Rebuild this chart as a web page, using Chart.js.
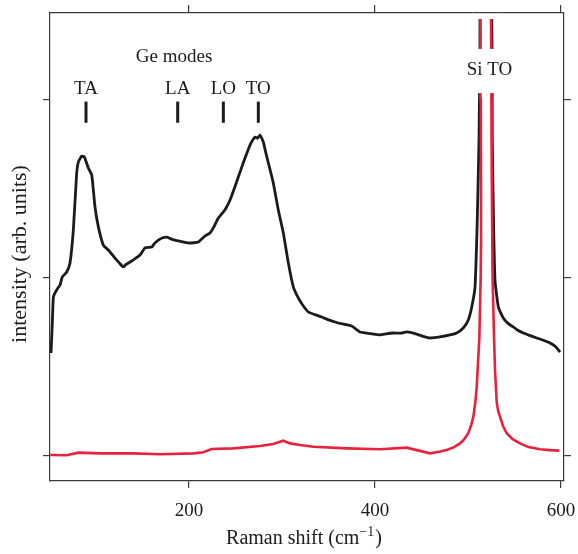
<!DOCTYPE html>
<html>
<head>
<meta charset="utf-8">
<title>Raman spectra</title>
<script src="https://cdn.jsdelivr.net/npm/chart.js@4.4.1/dist/chart.umd.min.js"></script>
<style>
  html, body { margin: 0; padding: 0; background: #fff; }
  #wrap { width: 578px; height: 554px; position: relative; }
</style>
</head>
<body>
<div id="wrap"><canvas id="chart"></canvas></div>
<script>
// SiGe layer spectrum (black): Raman shift in cm^-1 and intensity (arb. units)
const geShift = [
  51.6, 52.7, 54.1, 55.9, 58.5, 61.3, 63.8, 68.5, 72.0, 75.6, 79.2, 81.0, 84.6, 87.4,
  91.7, 95.4, 98.9, 102.5, 107.8, 113.2, 120.4, 125.0, 129.4, 132.0, 136.6, 141.0,
  147.3, 152.7, 159.9, 163.0, 167.0, 171.0, 176.0, 180.5, 184.9, 192.0, 199.2, 205.0,
  210.0, 217.2, 222.6, 227.0, 231.5, 236.9, 240.0, 244.1, 248.5, 253.0, 256.5, 260.2,
  265.6, 271.0, 273.5, 276.3, 279.9, 282.5, 285.3, 290.6, 296.0, 301.4, 306.8, 312.2,
  317.5, 322.0, 328.3, 335.0, 342.7, 350.0, 357.0, 365.0, 374.9, 383.9, 395.0, 405.4,
  412.0, 419.7, 428.0, 434.1, 444.8, 452.0, 459.1, 469.9, 480.6, 487.8, 494.9, 500.3,
  504.0, 507.5, 509.8, 511.8, 512.8, 513.2, 519.0, 525.0, 525.8, 526.1, 527.5, 529.0,
  532.6, 537.9, 543.0, 548.7, 554.0, 559.5, 566.0, 573.9, 581.0, 588.2, 594.0, 598.9
];
const geIntensity = [
  0.579, 0.708, 0.893, 0.916, 0.940, 0.961, 1.006, 1.034, 1.084, 1.270, 1.590, 1.652, 1.685, 1.680,
  1.618, 1.579, 1.399, 1.287, 1.185, 1.157, 1.112, 1.085, 1.062, 1.075, 1.090, 1.105,
  1.129, 1.169, 1.174, 1.195, 1.213, 1.225, 1.230, 1.220, 1.213, 1.205, 1.197, 1.198,
  1.202, 1.236, 1.253, 1.290, 1.337, 1.371, 1.395, 1.438, 1.500, 1.567, 1.620, 1.674,
  1.747, 1.792, 1.785, 1.803, 1.764, 1.705, 1.646, 1.534, 1.382, 1.253, 1.084, 0.949,
  0.888, 0.850, 0.809, 0.795, 0.781, 0.765, 0.753, 0.742, 0.730, 0.697, 0.688, 0.680,
  0.686, 0.691, 0.690, 0.697, 0.685, 0.672, 0.663, 0.669, 0.680, 0.691, 0.719, 0.764,
  0.837, 0.949, 1.300, 1.775, 2.300, 2.600, 2.900, 2.600, 2.300, 1.775, 1.300, 0.989,
  0.837, 0.775, 0.745, 0.725, 0.705, 0.691, 0.678, 0.663, 0.650, 0.635, 0.615, 0.584
];

// Si substrate reference spectrum (red)
const siShift = [
  50.7, 68.5, 81.0, 104.3, 139.8, 168.8, 204.6, 215.4, 224.4, 247.6, 276.3, 290.6,
  301.4, 308.6, 319.4, 333.7, 369.6, 405.4, 434.1, 459.1, 470.0, 477.1, 485.0, 491.4,
  496.0, 500.3, 503.5, 505.7, 507.8, 509.4, 510.3, 512.2, 513.6, 514.0, 513.8, 513.4,
  519.0, 524.6, 525.2, 525.5, 526.4, 527.8, 529.0, 530.9, 532.5, 534.4, 537.5, 541.6,
  548.0, 555.9, 565.0, 577.4, 588.0, 598.2
];
const siIntensity = [
  0.006, 0.004, 0.019, 0.015, 0.015, 0.010, 0.015, 0.021, 0.039, 0.043, 0.056, 0.067,
  0.086, 0.071, 0.062, 0.052, 0.043, 0.038, 0.047, 0.015, 0.025, 0.034, 0.050, 0.071,
  0.095, 0.128, 0.175, 0.221, 0.300, 0.389, 0.483, 0.670, 1.000, 1.200, 2.000, 2.600,
  2.800, 2.600, 2.000, 1.600, 1.000, 0.700, 0.483, 0.298, 0.250, 0.221, 0.170, 0.128,
  0.095, 0.071, 0.050, 0.038, 0.033, 0.030
];

// Axis ranges and ticks
const xRange = [50.5, 603.2];
const yRange = [-0.1404, 2.4888];
const xTicks = [200, 400, 600];
const yTicks = [0, 1, 2];

// Axis titles
const xTitle = ['Raman shift (cm', '\u22121', ')'];
const yTitle = 'intensity (arb. units)';

// Phonon mode annotations for Ge-Ge vibrations
const geModeTitle = 'Ge modes';
const geModeTitlePos = [183.9, 2.242];
const geModeNames = ['TA', 'LA', 'LO', 'TO'];
const geModeShifts = [89.2, 187.8, 236.9, 274.5];
const geModeLabelLevel = 2.062;
const geModeMarkRange = [1.872, 1.991];

// Si TO label sits in a break of the truncated Si peak
const siLabel = 'Si TO';
const siLabelPos = [523.1, 2.169];
const siLabelGap = [2.039, 2.287];
const siPeakCut = 2.455;
const siPeakSpan = [505, 533];

const FONT = "'Liberation Serif', 'DejaVu Serif', serif";
const INK = '#1b1b1b';
const FRAME = '#3a3a3a';
const FRAME_W = 1.2;
const RED = '#e8223c';

function toPoints(xs, ys) { return xs.map((v, i) => ({ x: v, y: ys[i] })); }

const annotate = {
  id: 'annotate',
  afterDatasetsDraw(chart) {
    const { ctx, chartArea } = chart;
    const xs = chart.scales.x, ys = chart.scales.y;
    ctx.save();

    // truncate the Si peak a little below the top frame
    const px0 = xs.getPixelForValue(siPeakSpan[0]);
    const px1 = xs.getPixelForValue(siPeakSpan[1]);
    const cutY = ys.getPixelForValue(siPeakCut);
    ctx.fillStyle = '#fff';
    ctx.fillRect(px0, chartArea.top - 2, px1 - px0, cutY - chartArea.top + 2);
    const topY = Math.round(chartArea.top - FRAME_W / 2) + FRAME_W / 2;
    ctx.strokeStyle = FRAME;
    ctx.lineWidth = FRAME_W;
    ctx.beginPath();
    ctx.moveTo(px0, topY);
    ctx.lineTo(px1, topY);
    ctx.stroke();

    ctx.font = '19px ' + FONT;
    ctx.textAlign = 'center';
    ctx.textBaseline = 'middle';

    // Si TO label in a white break of the peak
    const sx = xs.getPixelForValue(siLabelPos[0]);
    const sy = ys.getPixelForValue(siLabelPos[1]);
    const gTop = ys.getPixelForValue(siLabelGap[1]);
    const gBot = ys.getPixelForValue(siLabelGap[0]);
    const tw = ctx.measureText(siLabel).width;
    ctx.fillStyle = '#fff';
    ctx.fillRect(sx - tw / 2 - 2, gTop, tw + 4, gBot - gTop);
    ctx.fillStyle = INK;
    ctx.fillText(siLabel, sx, sy);

    // Ge mode labels and markers
    ctx.fillText(geModeTitle, xs.getPixelForValue(geModeTitlePos[0]), ys.getPixelForValue(geModeTitlePos[1]));
    const ly = ys.getPixelForValue(geModeLabelLevel);
    const m0 = ys.getPixelForValue(geModeMarkRange[1]);
    const m1 = ys.getPixelForValue(geModeMarkRange[0]);
    ctx.strokeStyle = INK;
    ctx.lineWidth = 3;
    geModeNames.forEach((name, i) => {
      const mx = xs.getPixelForValue(geModeShifts[i]);
      ctx.fillText(name, mx, ly);
      ctx.beginPath();
      ctx.moveTo(mx, m0);
      ctx.lineTo(mx, m1);
      ctx.stroke();
    });

    // x-axis title with a raised exponent
    const big = '20px ' + FONT, small = '14px ' + FONT;
    ctx.textAlign = 'left';
    ctx.textBaseline = 'alphabetic';
    ctx.font = big;
    const w0 = ctx.measureText(xTitle[0]).width;
    const w2 = ctx.measureText(xTitle[2]).width;
    ctx.font = small;
    const w1 = ctx.measureText(xTitle[1]).width;
    const cx = (chartArea.left + chartArea.right) / 2 - 3;
    let tx = cx - (w0 + w1 + w2 + 1) / 2;
    const base = 544;
    ctx.fillStyle = INK;
    ctx.font = big;
    ctx.fillText(xTitle[0], tx, base);
    tx += w0;
    ctx.font = small;
    ctx.fillText(xTitle[1], tx, base - 8);
    tx += w1 + 1;
    ctx.font = big;
    ctx.fillText(xTitle[2], tx, base);

    // y-axis title, rotated
    ctx.save();
    ctx.translate(20, 254);
    ctx.rotate(-Math.PI / 2);
    ctx.textAlign = 'center';
    ctx.textBaseline = 'middle';
    ctx.font = '22px ' + FONT;
    ctx.fillText(yTitle, 0, 0);
    ctx.restore();

    ctx.restore();
  }
};

function frameAxis(extra) {
  return Object.assign({
    type: 'linear',
    grid: { drawOnChartArea: false, drawTicks: true, tickLength: 7, color: FRAME, lineWidth: FRAME_W },
    border: { display: true, color: FRAME, width: FRAME_W },
    ticks: { display: false }
  }, extra);
}

function fixSize(prop, size) {
  return function (s) {
    s[prop] = size;
    s.paddingLeft = 0; s.paddingRight = 0; s.paddingTop = 0; s.paddingBottom = 0;
  };
}

new Chart(document.getElementById('chart'), {
  type: 'line',
  data: {
    datasets: [
      {
        label: 'Si',
        data: toPoints(siShift, siIntensity),
        borderColor: RED,
        borderWidth: 2.6,
        pointRadius: 0,
        tension: 0,
        fill: false,
        clip: 0
      },
      {
        label: 'SiGe',
        data: toPoints(geShift, geIntensity),
        borderColor: INK,
        borderWidth: 2.8,
        pointRadius: 0,
        tension: 0.15,
        fill: false,
        clip: 0
      }
    ]
  },
  options: {
    responsive: true,
    maintainAspectRatio: false,
    animation: false,
    parsing: false,
    layout: { padding: 0, autoPadding: false },
    plugins: { legend: { display: false }, tooltip: { enabled: false } },
    scales: {
      x: frameAxis({
        position: 'bottom', min: xRange[0], max: xRange[1],
        afterBuildTicks(s) { s.ticks = xTicks.map(v => ({ value: v })); },
        afterFit: fixSize('height', 73),
        ticks: { display: true, color: INK, font: { family: FONT, size: 19 }, padding: 12, maxRotation: 0 }
      }),
      x2: frameAxis({
        position: 'top', min: xRange[0], max: xRange[1],
        grid: { drawOnChartArea: false, drawTicks: true, tickLength: 8, color: FRAME, lineWidth: FRAME_W },
        afterBuildTicks(s) { s.ticks = xTicks.map(v => ({ value: v })); },
        afterFit: fixSize('height', 13)
      }),
      y: frameAxis({
        position: 'left', min: yRange[0], max: yRange[1],
        afterBuildTicks(s) { s.ticks = yTicks.map(v => ({ value: v })); },
        afterFit: fixSize('width', 50)
      }),
      y2: frameAxis({
        position: 'right', min: yRange[0], max: yRange[1],
        afterBuildTicks(s) { s.ticks = yTicks.map(v => ({ value: v })); },
        afterFit: fixSize('width', 14)
      })
    }
  },
  plugins: [annotate]
});
</script>
</body>
</html>
